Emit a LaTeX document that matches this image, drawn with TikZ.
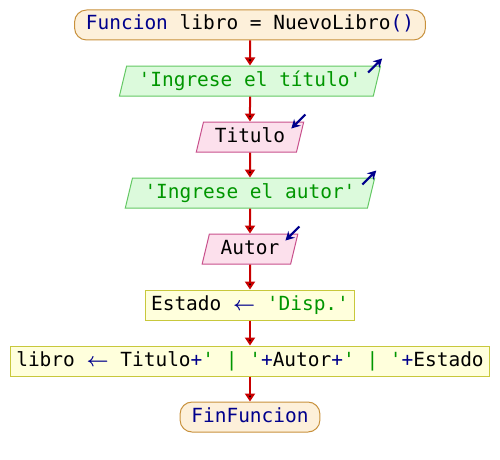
\documentclass[tikz,border=0pt]{standalone}
\usepackage{fontspec}
\newfontfamily\psmono{DejaVu Sans Mono}
\usetikzlibrary{positioning,shapes.geometric,arrows.meta}

\definecolor{kwblue}{HTML}{00008C}
\definecolor{strgreen}{HTML}{009600}
\definecolor{flowred}{HTML}{C80000}
\definecolor{termfill}{HTML}{FDF0DA}
\definecolor{termline}{HTML}{C8913C}
\definecolor{outfill}{HTML}{DCFADC}
\definecolor{outline}{HTML}{64C864}
\definecolor{infill}{HTML}{FCE0EC}
\definecolor{inline}{HTML}{C8508C}
\definecolor{asgfill}{HTML}{FFFFDC}
\definecolor{asgline}{HTML}{C8C83C}

\newcommand{\kwtxt}[1]{\textcolor{kwblue}{#1}}
\newcommand{\strtxt}[1]{\textcolor{strgreen}{#1}}
\newcommand{\asg}{\kwtxt{\boldmath$\leftarrow$}}

\begin{document}
\begin{tikzpicture}[x=0.75pt,y=0.75pt,node distance=18.75pt,
  font=\psmono\fontsize{14.6pt}{17pt}\selectfont,
  every node/.style={text height=10.5pt,text depth=3pt,minimum height=22.5pt,line width=0.75pt},
  term/.style={rectangle,rounded corners=9pt,draw=termline,fill=termfill,inner xsep=8.5pt},
  outbox/.style={trapezium,trapezium stretches,trapezium left angle=75,trapezium right angle=105,
    draw=outline,fill=outfill,inner xsep=9pt},
  inbox/.style={trapezium,trapezium stretches,trapezium left angle=75,trapezium right angle=105,
    draw=inline,fill=infill,inner xsep=8.5pt},
  assign/.style={rectangle,draw=asgline,fill=asgfill,inner xsep=4pt},
  flow/.style={-{Triangle[width=7.5pt,length=6pt]},line width=1.5pt,draw=flowred},
  ioarrow/.style={-{Stealth[length=6.5pt,width=7pt]},line width=1.6pt,draw=kwblue}]

 \useasboundingbox (0,0) rectangle (500,-460);

 \node[term] (start) at (250,-25) {\kwtxt{Funcion} libro = NuevoLibro\kwtxt{()}};
 \node[outbox] (msg1) [below=of start] {\strtxt{'Ingrese el título'}};
 \node[inbox] (titulo) [below=of msg1] {Titulo};
 \node[outbox] (msg2) [below=of titulo] {\strtxt{'Ingrese el autor'}};
 \node[inbox] (autor) [below=of msg2] {Autor};
 \node[assign] (estado) [below=of autor] {Estado \asg{} \strtxt{'Disp.'}};
 \node[assign] (libro) [below=of estado]
   {libro \asg{} Titulo\kwtxt{+}\strtxt{' | '}\kwtxt{+}Autor\kwtxt{+}\strtxt{' | '}\kwtxt{+}Estado};
 \node[term] (fin) [below=of libro] {\kwtxt{FinFuncion}};

 \path[flow]
    (start)  edge (msg1)
    (msg1)   edge (titulo)
    (titulo) edge (msg2)
    (msg2)   edge (autor)
    (autor)  edge (estado)
    (estado) edge (libro)
    (libro)  edge (fin);

 % output and input marks
 \foreach \n in {msg1,msg2}
   \draw[ioarrow] ([shift={(-13,-7)}]\n.top right corner) -- ([shift={(1,7)}]\n.top right corner);
 \foreach \n in {titulo,autor}
   \draw[ioarrow] ([shift={(1,7)}]\n.top right corner) -- ([shift={(-13,-7)}]\n.top right corner);

\end{tikzpicture}
\end{document}
